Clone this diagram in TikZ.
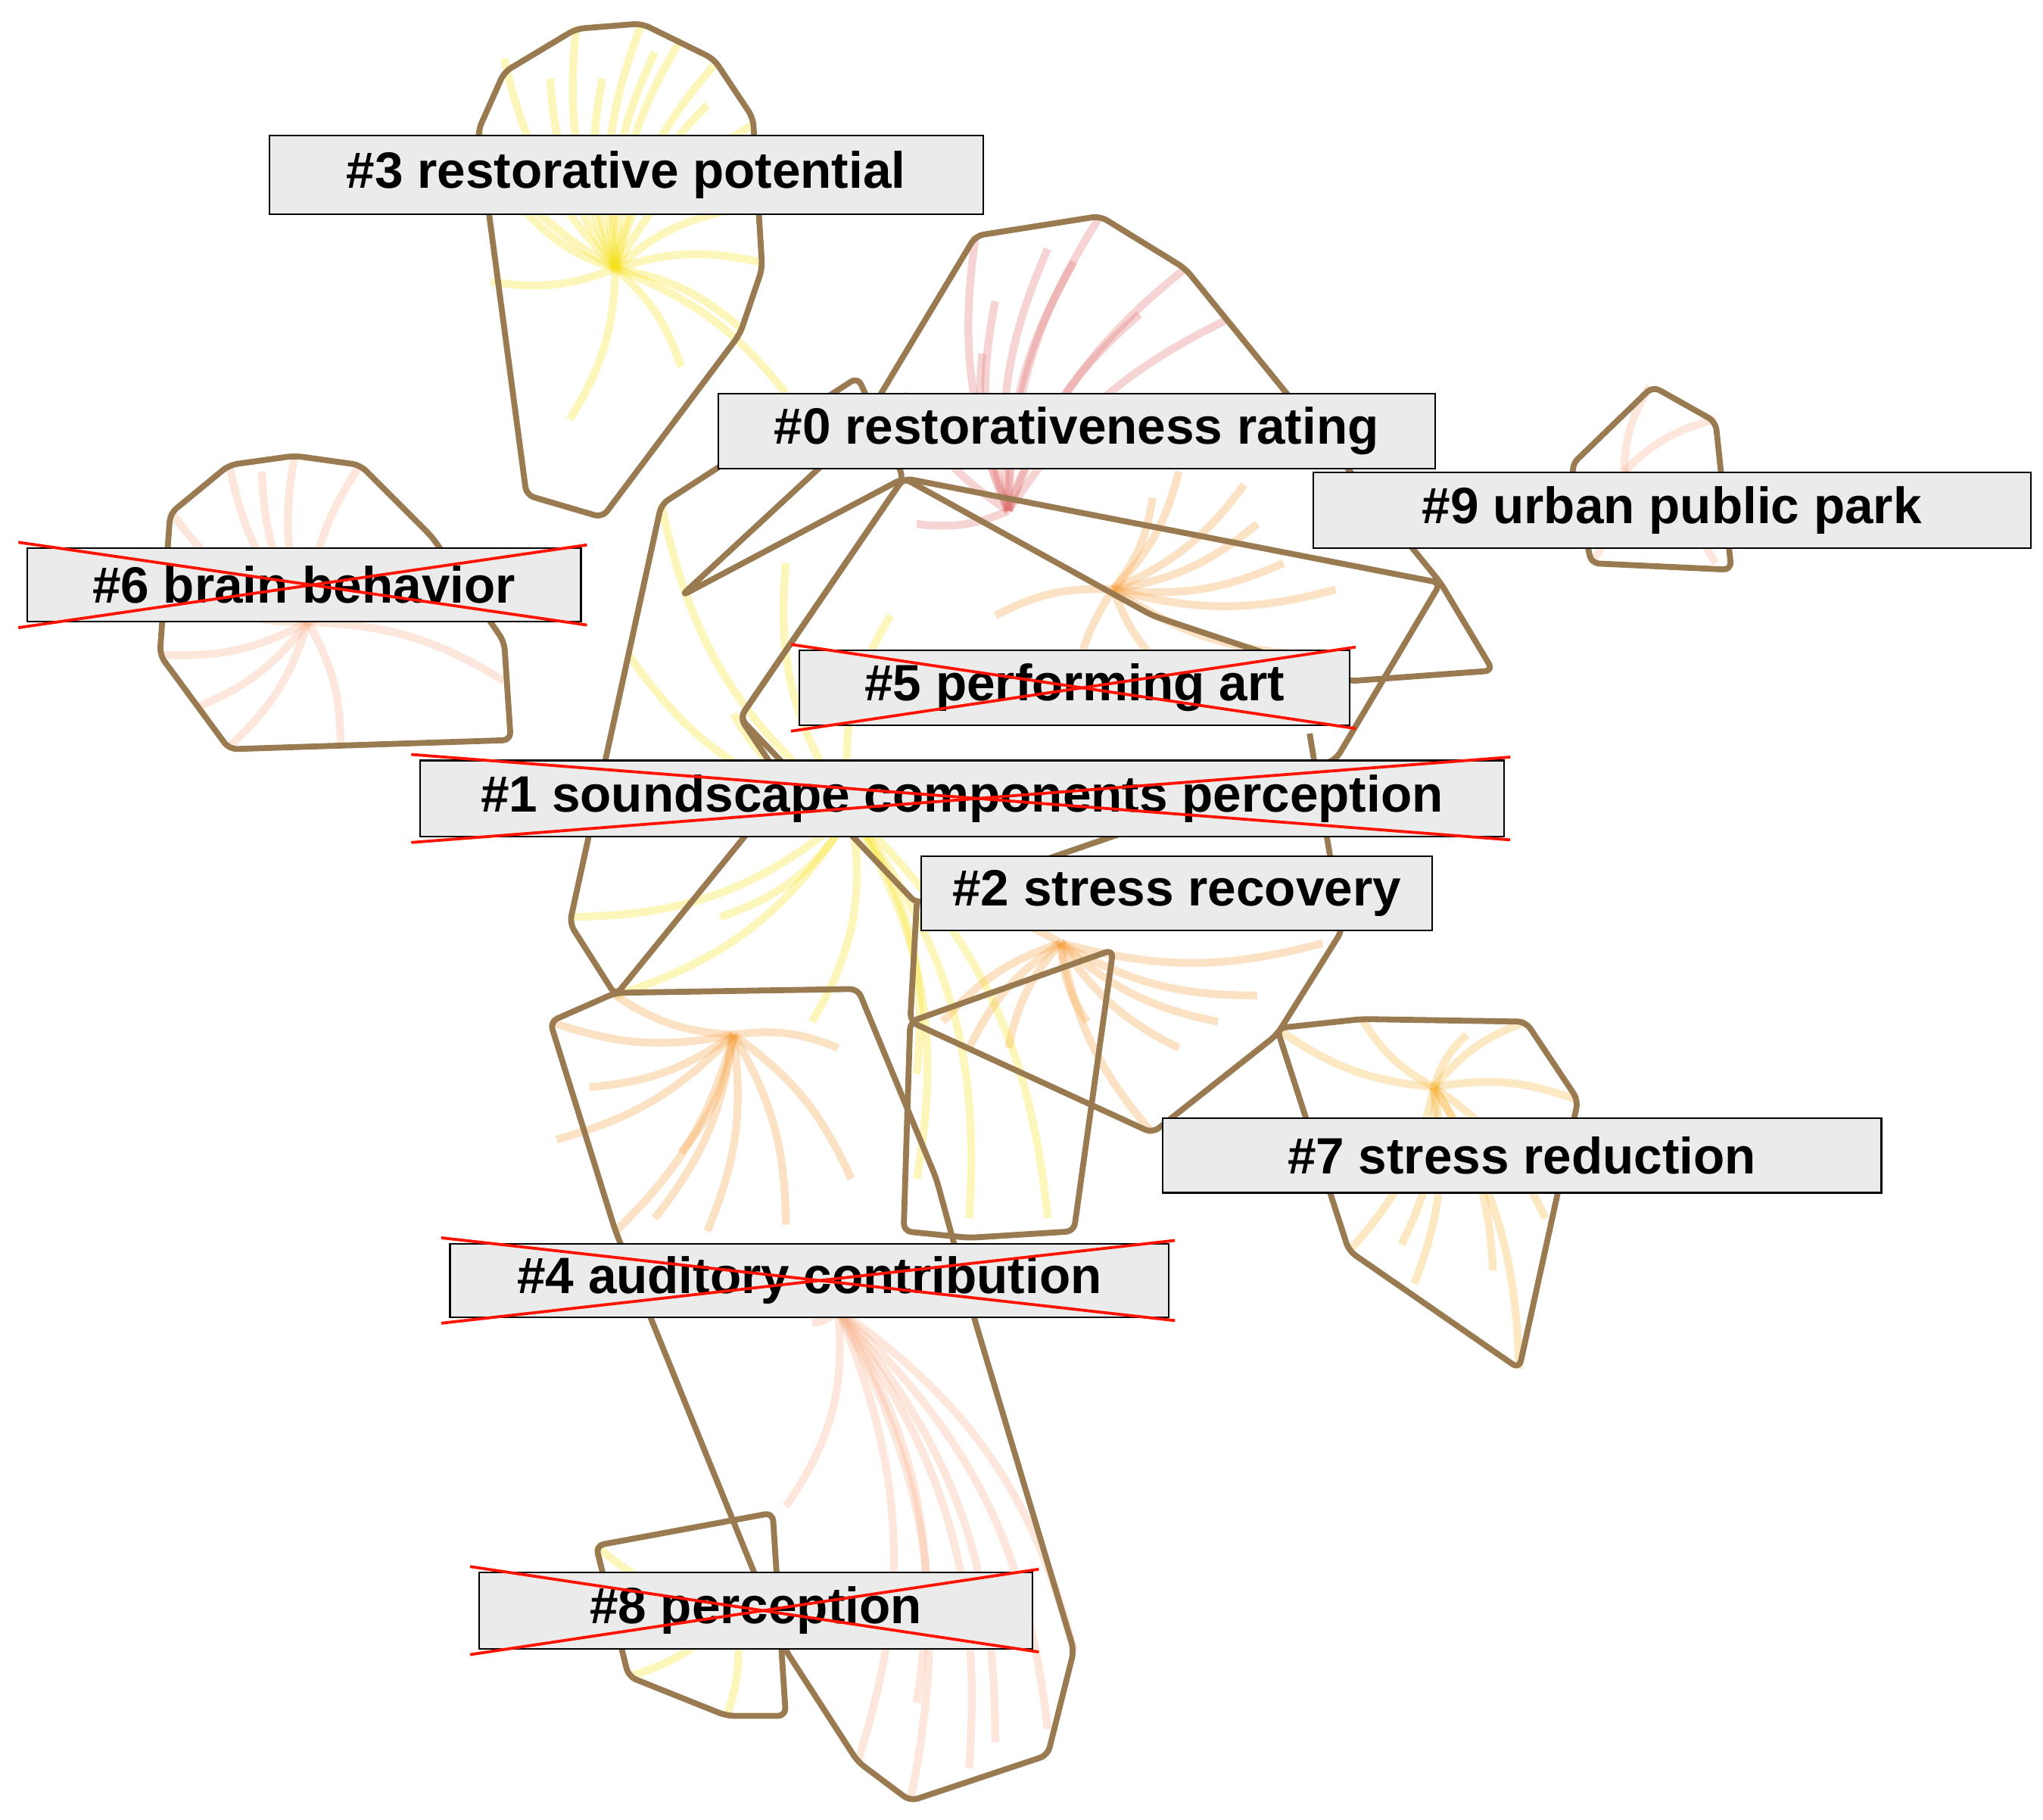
\documentclass[tikz,border=0pt]{standalone}
\usepackage{fontspec}
\setmainfont{Liberation Sans}
\begin{document}
\begin{tikzpicture}[x=1pt,y=-1pt,
 hull/.style={draw=hullc,line width=4.5pt,line join=round,rounded corners=6pt},
 lab/.style={draw=black,fill=boxg,line width=1.2pt,font=\bfseries\fontsize{39}{44}\selectfont,inner sep=0pt,anchor=north west},
 cross/.style={draw=red!85!orange,line width=2.2pt},
 fan/.style={line width=6pt,opacity=0.3}]
\definecolor{hullc}{HTML}{9A7A50}
\definecolor{boxg}{HTML}{EBEBEB}
\definecolor{yel}{HTML}{F5E01A}
\definecolor{org}{HTML}{F5A040}
\definecolor{pnk}{HTML}{E07070}
\definecolor{pch}{HTML}{F7B08A}
\useasboundingbox (0,0) rectangle (1560,1389);
% fans
\foreach \x/\y in {385/45,440/20,490/18,545/50,575/95,580/200,565/250,375/215,365/100,420/60,520/30,560/160,400/160,435/320,520/280,600/300,460/60,500/40,540/80}
  \draw[fan,yel] (470,205) to[bend left=15] (\x,\y);
\foreach \x/\y in {745/180,840/165,905/205,935/245,800/190,750/270,690/300,700/400,870/240,820/200,760/230}
  \draw[fan,pnk] (770,390) to[bend left=15] (\x,\y);
\foreach \x/\y in {950/370,980/430,1020/450,900/520,820/540,760/470,900/360,1000/500,960/400,880/380}
  \draw[fan,org] (850,450) to[bend right=15] (\x,\y);
\foreach \x/\y in {130/390,175/355,225/348,275/355,150/540,175/570,260/570,125/500,330/470,385/520,200/360,140/450}
  \draw[fan,pch] (235,475) to[bend left=15] (\x,\y);
\foreach \x/\y in {420/780,470/760,425/870,470/940,540/940,600/935,650/900,640/800,520/880,450/830,500/930}
  \draw[fan,org] (560,790) to[bend left=15] (\x,\y);
\foreach \x/\y in {975/785,1040/778,1165/780,1205/840,1160/1045,1030/955,1080/980,1140/970,1180/930,1120/790,1070/950}
  \draw[fan,org!70!yel] (1095,830) to[bend left=15] (\x,\y);
\foreach \x/\y in {700/690,720/780,770/800,830/780,900/800,960/760,1010/720,880/865,740/800,930/780}
  \draw[fan,org] (810,720) to[bend right=15] (\x,\y);
\foreach \x/\y in {505/385,435/700,470/760,560/545,700/820,800/930,740/930,600/430,550/700,480/500,680/470,620/780,700/900,520/620}
  \draw[fan,yel] (650,620) to[bend left=20] (\x,\y);
\foreach \x/\y in {620/1010,655/1345,695/1375,740/1350,800/1320,820/1260,600/1150,700/1300,760/1330}
  \draw[fan,pch] (640,1000) to[bend left=20] (\x,\y);
\foreach \x/\y in {1260/295,1310/320,1215/430,1310/430}
  \draw[fan,pch] (1240,360) to[bend left=15] (\x,\y);
\foreach \x/\y in {455/1180,480/1280,555/1310}
  \draw[fan,yel] (560,1230) to[bend left=15] (\x,\y);
% hulls
\draw[hull] (365,100)--(385,55)--(440,22)--(490,18)--(545,45)--(575,90)--(582,205)--(565,255)--(460,395)--(402,378)--cycle;
\draw[hull] (520,455)--(655,330)--(745,180)--(840,165)--(905,205)--(1100,445)--(1140,512)--(1030,520)--(880,470)--(690,365)--cycle;
\draw[hull] (1200,355)--(1262,295)--(1310,322)--(1322,435)--(1215,430)--cycle;
\draw[hull] (130,392)--(175,355)--(225,348)--(275,355)--(330,410)--(385,490)--(390,565)--(175,572)--(122,500)--cycle;
\draw[hull] (505,385)--(655,288)--(690,365)--(565,548)--(600,600)--(470,760)--(435,705)--cycle;
\draw[hull] (690,365)--(1100,445)--(1020,580)--(700,690)--(565,548)--cycle;
\draw[hull] (700,690)--(695,780)--(880,865)--(975,790)--(1025,710)--(1000,560);
\draw[hull] (975,785)--(1040,778)--(1165,780)--(1205,840)--(1160,1045)--(1030,955)--cycle;
\draw[hull] (420,780)--(470,758)--(655,755)--(715,900)--(745,1010)--(820,1260)--(800,1340)--(695,1375)--(655,1345)--(600,1260)--(470,940)--cycle;
\draw[hull] (695,780)--(850,725)--(820,940)--(740,945)--(690,940)--cycle;
\draw[hull] (455,1180)--(590,1155)--(600,1310)--(555,1310)--(480,1280)--cycle;
% labels
\node[lab,minimum width=545pt,minimum height=60pt] (l3) at (205,103) {\#3 restorative potential};
\node[lab,minimum width=547pt,minimum height=57pt] (l0) at (548,300) {\#0 restorativeness rating};
\node[lab,minimum width=548pt,minimum height=58pt] (l9) at (1002,360) {\#9 urban public park};
\node[lab,minimum width=423pt,minimum height=56pt] (l6) at (20,418) {\#6 brain behavior};
\node[lab,minimum width=420pt,minimum height=57pt] (l5) at (610,496) {\#5 performing art};
\node[lab,minimum width=828pt,minimum height=58pt] (l1) at (320,580) {\#1 soundscape components perception};
\node[lab,minimum width=390pt,minimum height=57pt] (l2) at (703,653) {\#2 stress recovery};
\node[lab,minimum width=549pt,minimum height=57pt] (l7) at (887,853) {\#7 stress reduction};
\node[lab,minimum width=549pt,minimum height=56pt] (l4) at (343,949) {\#4 auditory contribution};
\node[lab,minimum width=423pt,minimum height=58pt] (l8) at (365,1200) {\#8 perception};
% crosses
\foreach \n in {l6,l5,l1,l4,l8}{
  \draw[cross] ([xshift=-6pt,yshift=4pt]\n.north west)--([xshift=4pt,yshift=-2pt]\n.south east);
  \draw[cross] ([xshift=-6pt,yshift=-4pt]\n.south west)--([xshift=4pt,yshift=2pt]\n.north east);}
\end{tikzpicture}
\end{document}
